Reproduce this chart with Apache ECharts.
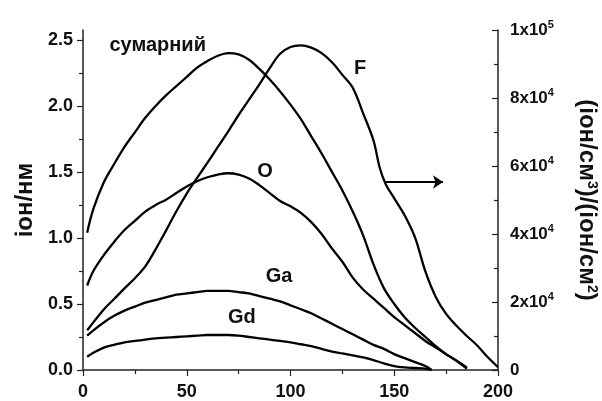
<!DOCTYPE html>
<html><head><meta charset="utf-8">
<script src="https://cdn.jsdelivr.net/npm/echarts@6/dist/echarts.min.js"></script>
<style>html,body{margin:0;padding:0;background:#fff}#c{width:602px;height:401px}</style>
</head><body><div id="c"></div>
<script>
// depth (x) values and series values
const xSum = [2,5,10,15,20,25,30,35,40,45,50,55,60,65,70,75,80,85,90,95,100,105,110,115,120,125,130,135,140,145,150,155,160,165,170,175,180,185];
const sumVals = [1.04,1.22,1.42,1.56,1.69,1.80,1.91,2.00,2.08,2.15,2.22,2.29,2.34,2.38,2.40,2.39,2.35,2.28,2.20,2.11,2.01,1.90,1.77,1.64,1.50,1.36,1.20,1.02,0.80,0.62,0.50,0.40,0.32,0.25,0.18,0.12,0.07,0.02];
const xO = [2,5,10,15,20,25,30,35,40,45,50,55,60,65,70,75,80,85,90,95,100,105,110,115,120,125,130,135,140,145,150,155,160,165,170,175,180,185];
const oVals = [0.64,0.75,0.87,0.97,1.06,1.13,1.20,1.25,1.29,1.34,1.39,1.43,1.46,1.48,1.49,1.48,1.45,1.40,1.34,1.28,1.24,1.19,1.12,1.03,0.92,0.82,0.70,0.61,0.54,0.47,0.40,0.34,0.28,0.22,0.17,0.12,0.07,0.01];
const xGa = [2,5,10,15,20,25,30,35,40,45,50,55,60,65,70,75,80,85,90,95,100,105,110,115,120,125,130,135,140,145,150,155,160,165,168];
const gaVals = [0.26,0.30,0.36,0.41,0.45,0.48,0.51,0.53,0.55,0.57,0.58,0.59,0.60,0.60,0.60,0.59,0.58,0.56,0.54,0.52,0.49,0.46,0.43,0.39,0.35,0.31,0.27,0.23,0.19,0.16,0.12,0.09,0.06,0.03,0.0];
const xGd = [2,5,10,15,20,25,30,35,40,45,50,55,60,65,70,75,80,85,90,95,100,105,110,115,120,125,130,135,140,145,150,155,160,165,168];
const gdVals = [0.10,0.13,0.17,0.19,0.21,0.22,0.23,0.24,0.245,0.25,0.255,0.26,0.265,0.265,0.265,0.26,0.25,0.24,0.23,0.22,0.21,0.195,0.18,0.16,0.14,0.125,0.11,0.095,0.075,0.05,0.03,0.02,0.015,0.01,0.0];
const xF = [2,5,10,15,20,25,30,35,40,45,50,55,60,65,70,75,80,85,90,95,100,105,110,115,120,125,130,135,140,143,146,150,155,160,165,170,175,180,185,190,195,200];
const fVals = [11700,14000,17800,20900,24000,27000,30500,35500,41000,46700,51900,56500,61000,65600,70200,75000,79500,84000,88800,93000,95000,95500,94800,93200,90500,86800,83000,75500,67500,59500,54500,50500,45500,39000,29000,21500,16500,13000,10000,7200,3800,800];
const leftTicks = [0,0.5,1.0,1.5,2.0,2.5];
const leftMinor = [0.25,0.75,1.25,1.75,2.25];
const curveLabels = [
  {text:'сумарний', x:36, y:2.46},
  {text:'F', x:133.5, y:2.28},
  {text:'O', x:87.7, y:1.50},
  {text:'Ga', x:94.5, y:0.71},
  {text:'Gd', x:76.6, y:0.40}
];
const arrowFrom = [146, 55300], arrowTo = [173.5, 55300];

const FONT = '"Liberation Sans", Arial, sans-serif';
const chart = echarts.init(document.getElementById('c'), null, {renderer:'canvas'});
const axisCol = '#222';
const lbl = {fontFamily:FONT, fontWeight:'bold', fontSize:18, color:'#111'};
const mk = (xs, vs) => xs.map((x,i)=>[x, vs[i]]);
const lineSeries = (name, data, yIdx) => ({
  name, type:'line', data, yAxisIndex:yIdx, smooth:0.35, showSymbol:false,
  lineStyle:{color:'#000', width:2.3}, silent:true, z:3
});
const fSeries = lineSeries('F', mk(xF,fVals), 1);
fSeries.markLine = {
  silent:true, symbol:['none','arrow'], symbolSize:10, label:{show:false},
  lineStyle:{color:'#000', width:2, type:'solid'},
  data:[[{coord:arrowFrom},{coord:arrowTo}]]
};
chart.setOption({
  animation:false,
  backgroundColor:'#fff',
  grid:{left:83, right:104, top:30, bottom:31, outerBoundsMode:'none', containLabel:false},
  xAxis:{type:'value', min:0, max:200, interval:50,
    axisLine:{lineStyle:{color:axisCol, width:1.5}},
    axisTick:{length:6, lineStyle:{color:axisCol, width:1.2}},
    minorTick:{show:true, splitNumber:2, length:4, lineStyle:{color:axisCol, width:1.2}},
    axisLabel:Object.assign({margin:13}, lbl),
    splitLine:{show:false}},
  yAxis:[
    {type:'value', min:0, max:2.575, position:'left',
      name:'іон/нм', nameLocation:'middle', nameGap:36, nameRotate:90,
      nameTextStyle:{fontFamily:FONT, fontWeight:'bold', fontSize:24, color:'#111'},
      axisLine:{show:true, lineStyle:{color:axisCol, width:1.5}},
      axisTick:{show:true, customValues:leftTicks, length:6, lineStyle:{color:axisCol, width:1.2}},
      axisLabel:Object.assign({customValues:leftTicks, margin:10, formatter:v=>v.toFixed(1)}, lbl),
      splitLine:{show:false}},
    {type:'value', min:0, max:100000, interval:20000, position:'right',
      name:'{t|(іон/см}{s|3}{t|)/(іон/см}{s|2}{t|)}', nameLocation:'middle', nameGap:76, nameRotate:-90,
      nameTextStyle:{rich:{
        t:{fontFamily:FONT, fontWeight:'bold', fontSize:24, color:'#111'},
        s:{fontFamily:FONT, fontWeight:'bold', fontSize:14, color:'#111', padding:[0,0,11,0]}}},
      axisLine:{show:true, lineStyle:{color:axisCol, width:1.5}},
      axisTick:{inside:true, length:6, lineStyle:{color:axisCol, width:1.2}},
      minorTick:{show:true, splitNumber:2, length:4, lineStyle:{color:axisCol, width:1.2}},
      axisLabel:{margin:12, formatter:v=>{
          if(v===0) return '{b|0}';
          if(v===100000) return '{b|1x10}{s|5}';
          return '{b|'+(v/10000)+'x10}{s|4}';
        },
        rich:{b:{fontFamily:FONT, fontWeight:'bold', fontSize:17, color:'#111'}, s:{fontFamily:FONT, fontWeight:'bold', fontSize:11, color:'#111', padding:[0,0,10,0]}}},
      splitLine:{show:false}},
    {type:'value', min:0, max:2.575, position:'left',
      axisLine:{show:false},
      axisTick:{show:true, customValues:leftMinor, length:4, lineStyle:{color:axisCol, width:1.2}},
      axisLabel:{show:false}, splitLine:{show:false}}
  ],
  series:[
    lineSeries('сумарний', mk(xSum,sumVals), 0),
    fSeries,
    lineSeries('O', mk(xO,oVals), 0),
    lineSeries('Ga', mk(xGa,gaVals), 0),
    lineSeries('Gd', mk(xGd,gdVals), 0)
  ]
});
const graphics = curveLabels.map(l => {
  const p = chart.convertToPixel({xAxisIndex:0, yAxisIndex:0}, [l.x, l.y]);
  return {type:'text', x:p[0], y:p[1], z:10,
    style:{text:l.text, fontFamily:FONT, fontWeight:'bold', fontSize:20, fill:'#111', align:'center', verticalAlign:'middle'}};
});
chart.setOption({graphic:graphics});
</script></body></html>
